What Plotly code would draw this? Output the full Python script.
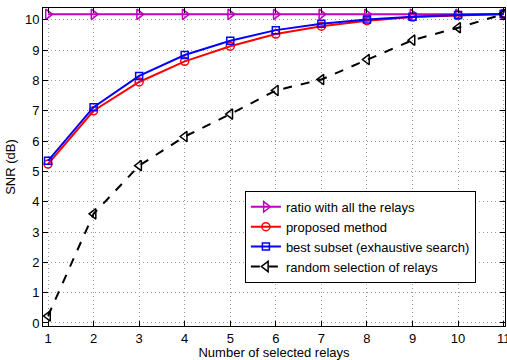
import plotly.graph_objects as go

relays = [1, 2, 3, 4, 5, 6, 7, 8, 9, 10, 11]
ratio_all = [10.18] * 11
proposed = [5.24, 7.0, 7.95, 8.63, 9.13, 9.53, 9.79, 9.97, 10.09, 10.15, 10.19]
best_subset = [5.35, 7.12, 8.15, 8.84, 9.31, 9.66, 9.87, 10.01, 10.1, 10.16, 10.19]
random_sel = [0.23, 3.6, 5.19, 6.15, 6.89, 7.67, 8.03, 8.69, 9.33, 9.74, 10.19]

fig = go.Figure()
fig.add_trace(go.Scatter(x=relays, y=ratio_all, mode="lines+markers",
                         name="ratio with all the relays",
                         line=dict(color="#c000c0", width=2),
                         marker=dict(symbol="triangle-right-open", size=9, color="#c000c0", line=dict(width=1.5))))
fig.add_trace(go.Scatter(x=relays, y=proposed, mode="lines+markers",
                         name="proposed method",
                         line=dict(color="#ff0000", width=2),
                         marker=dict(symbol="circle-open", size=8, color="#ff0000", line=dict(width=1.5))))
fig.add_trace(go.Scatter(x=relays, y=best_subset, mode="lines+markers",
                         name="best subset (exhaustive search)",
                         line=dict(color="#0000ff", width=2),
                         marker=dict(symbol="square-open", size=7, color="#0000ff", line=dict(width=1.5))))
fig.add_trace(go.Scatter(x=relays, y=random_sel, mode="lines+markers",
                         name="random selection of relays",
                         line=dict(color="#000000", width=2, dash="dash"),
                         marker=dict(symbol="triangle-left-open", size=9, color="#000000", line=dict(width=1.5))))

axis_common = dict(showline=True, linecolor="black", linewidth=1, mirror="ticks",
                   ticks="inside", ticklen=5, tickcolor="black",
                   showgrid=True, gridcolor="#999999", griddash="1px,3px", gridwidth=1,
                   zeroline=False, tickfont=dict(size=13, color="black"),
                   ticklabeloverflow="allow")

fig.update_layout(
    width=507, height=360,
    margin=dict(l=43, r=2, t=8, b=34, autoexpand=False),
    paper_bgcolor="white", plot_bgcolor="white",
    font=dict(family="Liberation Sans, Arial, sans-serif", size=13, color="black"),
    xaxis=dict(range=[0.89, 11.03], tickvals=relays, ticktext=[str(v) for v in relays],
               title=dict(text="Number of selected relays", standoff=1, font=dict(size=13)),
               **axis_common),
    yaxis=dict(range=[-0.1, 10.39], tickvals=list(range(0, 11)),
               title=dict(text="SNR (dB)", standoff=6, font=dict(size=13)),
               **axis_common),
    legend=dict(x=0.437, y=0.425, xanchor="left", yanchor="top",
                bgcolor="white", bordercolor="black", borderwidth=1,
                font=dict(size=13), tracegroupgap=0, itemwidth=30),
    showlegend=True,
)

fig.write_html("out.html", config={"displayModeBar": False})
with open("out.html", "r", encoding="utf-8") as f:
    html = f.read()
html = html.replace("<head>", "<head><style>body{margin:0;padding:0;overflow:hidden}</style>", 1)
with open("out.html", "w", encoding="utf-8") as f:
    f.write(html)
